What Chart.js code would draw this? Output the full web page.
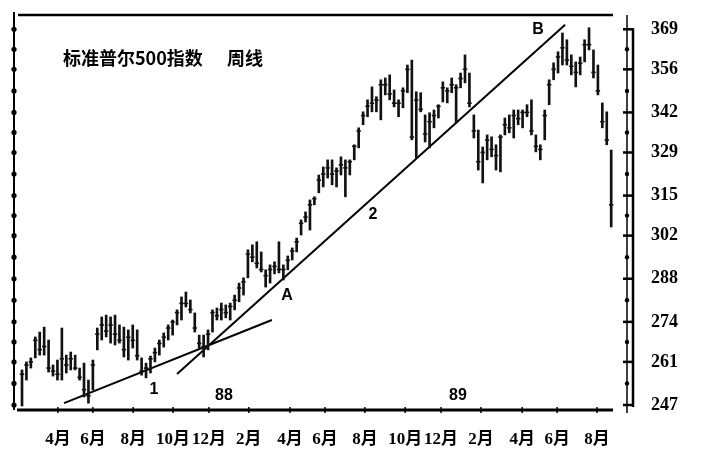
<!DOCTYPE html>
<html>
<head>
<meta charset="utf-8">
<script src="https://cdn.jsdelivr.net/npm/chart.js@4/dist/chart.umd.min.js"></script>
<style>
  body { margin: 0; background: #fff; }
</style>
</head>
<body>
<canvas id="spxChart" width="706" height="450"></canvas>
<script>
// weekly S&P 500 bars (high / low / close per week)
const weekHighs = [258.4, 261.0, 262.3, 269.1, 270.7, 272.3, 268.1, 260.0, 261.6, 272.0,
  263.2, 264.2, 263.2, 259.0, 260.6, 255.1, 261.6, 272.0, 275.6, 276.2,
  275.6, 276.2, 273.0, 272.3, 271.4, 273.0, 271.4, 262.3, 260.6, 262.9,
  265.5, 268.1, 270.4, 273.0, 274.6, 277.9, 282.1, 283.7, 281.1, 276.9,
  269.7, 269.7, 271.4, 277.9, 278.5, 280.1, 279.5, 280.1, 282.7, 286.6,
  288.3, 297.4, 299.0, 300.0, 296.7, 290.9, 292.5, 293.5, 300.0, 292.5,
  295.4, 298.0, 301.2, 307.1, 309.7, 313.6, 314.6, 321.7, 324.3, 326.6,
  326.6, 324.0, 327.6, 326.6, 326.6, 331.5, 337.0, 342.2, 346.1, 350.3,
  347.1, 352.6, 353.2, 354.2, 349.3, 346.1, 350.0, 357.4, 359.0, 348.7,
  348.4, 341.2, 341.9, 342.8, 344.5, 351.9, 350.0, 353.2, 351.0, 354.8,
  360.7, 354.8, 341.2, 336.3, 330.8, 334.7, 334.1, 331.5, 334.7, 340.2,
  341.2, 342.8, 342.8, 342.8, 344.5, 346.1, 334.7, 331.5, 342.8, 352.6,
  358.1, 361.7, 367.8, 365.6, 360.7, 358.4, 360.0, 365.6, 369.5, 362.3,
  357.4, 345.1, 342.2, 329.8];

const weekLows = [246.7, 255.1, 259.0, 262.3, 263.2, 263.2, 257.7, 256.4, 255.1, 255.1,
  257.4, 258.4, 258.4, 255.1, 249.6, 247.6, 251.9, 264.9, 268.1, 269.1,
  267.1, 266.5, 267.1, 262.6, 261.6, 265.5, 261.6, 256.7, 255.8, 257.4,
  261.0, 263.2, 265.8, 268.1, 269.7, 273.0, 274.6, 278.8, 276.9, 270.7,
  265.5, 262.6, 264.9, 270.7, 274.6, 274.6, 275.3, 274.6, 277.9, 280.5,
  282.7, 288.3, 293.5, 291.5, 290.2, 285.3, 286.6, 289.6, 289.9, 287.6,
  290.9, 294.1, 296.7, 302.2, 306.4, 303.8, 312.0, 315.9, 317.8, 320.7,
  318.5, 317.8, 321.7, 314.6, 321.7, 326.6, 330.5, 338.0, 340.6, 342.2,
  342.2, 339.6, 347.7, 346.1, 343.8, 340.6, 343.5, 348.4, 333.1, 327.2,
  342.2, 332.4, 330.5, 337.0, 340.2, 345.4, 345.1, 348.4, 338.6, 350.0,
  351.6, 343.8, 333.7, 323.3, 319.1, 326.6, 327.6, 323.3, 322.7, 334.7,
  335.4, 333.7, 338.0, 337.0, 340.6, 334.7, 329.2, 326.6, 333.1, 344.5,
  352.6, 354.8, 357.4, 357.4, 354.2, 350.3, 354.2, 358.4, 362.3, 353.2,
  347.7, 337.0, 331.5, 304.8];

const weekCloses = [257, 260, 261, 268, 265, 266, 259, 258, 257, 262,
  260, 262, 259, 256, 252, 250, 260, 270, 273, 271,
  273, 270, 268, 265, 269, 268, 263, 258, 259, 262,
  264, 267, 269, 272, 274, 277, 280, 280, 278, 272,
  267, 266, 270, 277, 276, 278, 277, 279, 281, 285,
  287, 296, 295, 293, 291, 289, 291, 292, 291, 291,
  294, 297, 300, 306, 308, 312, 314, 320, 322, 324,
  322, 323, 325, 324, 326, 331, 336, 341, 344, 345,
  346, 351, 351, 348, 345, 345, 349, 356, 334, 346,
  343, 335, 339, 341, 344, 350, 349, 351, 350, 353,
  356, 345, 336, 326, 329, 333, 330, 328, 334, 338,
  337, 341, 340, 342, 342, 336, 331, 330, 341, 351,
  356, 360, 363, 359, 357, 355, 358, 364, 364, 355,
  349, 339, 333, 312];

// month ticks (in weeks from the first bar)
const xTickPos = [8.1, 16.0, 25.1, 34.1, 42.2, 51.2, 60.5, 68.4, 77.4, 86.5, 94.6, 103.6, 112.9, 120.8, 129.8];
const xTickLabels = ['4月', '6月', '8月', '10月', '12月', '2月', '4月', '6月', '8月', '10月', '12月', '2月', '4月', '6月', '8月'];
const yTicks = [247, 261, 274, 288, 302, 315, 329, 342, 356, 369];

// trend lines: [week, price]
const trendLine1 = [[9.5, 247.6], [56.4, 274.6]];
const trendLine2 = [[35.0, 257.1], [122.6, 370.5]];

// marks written on the chart
const noteText = ['1', '88', 'A', '2', '89', 'B'];
const noteWeek = [29.8, 45.6, 59.8, 79.2, 98.4, 116.5];
const notePrice = [251.9, 250.2, 282.4, 308.7, 250.2, 368.8];

const titleLeft = '标准普尔500指数';
const titleRight = '周线';

const decor = {
  id: 'decor',
  afterDraw(chart) {
    const ctx = chart.ctx;
    const a = chart.chartArea;
    const x = chart.scales.x, y = chart.scales.y;
    ctx.save();
    ctx.strokeStyle = '#000';
    ctx.fillStyle = '#000';

    // top frame + bottom axis line
    ctx.lineWidth = 2.5;
    ctx.beginPath();
    ctx.moveTo(a.left + 4, a.top); ctx.lineTo(a.right - 14, a.top);
    ctx.stroke();
    ctx.lineWidth = 3;
    ctx.beginPath();
    ctx.moveTo(a.left + 3, a.bottom); ctx.lineTo(a.right - 14, a.bottom);
    ctx.stroke();
    ctx.lineWidth = 1.5;
    xTickPos.forEach(v => {
      const px = x.getPixelForValue(v);
      ctx.beginPath();
      ctx.moveTo(px, a.bottom - 3); ctx.lineTo(px, a.bottom + 3);
      ctx.stroke();
    });

    // left axis with dots
    ctx.lineWidth = 2;
    ctx.beginPath();
    ctx.moveTo(a.left, a.top - 3); ctx.lineTo(a.left, a.bottom);
    ctx.stroke();

    // right axis: thin line + heavy line
    ctx.lineWidth = 1.5;
    ctx.beginPath();
    ctx.moveTo(a.right, a.top); ctx.lineTo(a.right, a.bottom + 3);
    ctx.stroke();
    ctx.lineWidth = 2.5;
    ctx.beginPath();
    ctx.moveTo(a.right + 6, y.getPixelForValue(yTicks[yTicks.length - 1]) - 1);
    ctx.lineTo(a.right + 6, y.getPixelForValue(yTicks[0]) + 2);
    ctx.stroke();

    yTicks.forEach((v, i) => {
      const py = y.getPixelForValue(v);
      ctx.beginPath(); ctx.arc(a.left, py, 2.6, 0, Math.PI * 2); ctx.fill();
      ctx.lineWidth = 2.5;
      ctx.beginPath(); ctx.moveTo(a.right - 4, py); ctx.lineTo(a.right + 6, py); ctx.stroke();
      if (i < yTicks.length - 1) {
        const pm = y.getPixelForValue((v + yTicks[i + 1]) / 2);
        ctx.beginPath(); ctx.arc(a.left, pm, 2.6, 0, Math.PI * 2); ctx.fill();
        ctx.beginPath(); ctx.arc(a.right, pm, 2.2, 0, Math.PI * 2); ctx.fill();
      }
    });

    // title
    ctx.font = 'bold 18px "Noto Sans CJK SC"';
    ctx.textBaseline = 'middle';
    ctx.textAlign = 'left';
    ctx.fillText(titleLeft, 63, 58);
    ctx.fillText(titleRight, 227, 58);

    // letters / numbers on the chart
    ctx.font = 'bold 16px "Liberation Sans"';
    ctx.textAlign = 'center';
    noteText.forEach((t, i) => {
      ctx.fillText(t, x.getPixelForValue(noteWeek[i]), y.getPixelForValue(notePrice[i]));
    });
    ctx.restore();
  }
};

const toPoints = pts => pts.map(p => ({ x: p[0], y: p[1] }));

new Chart(document.getElementById('spxChart').getContext('2d'), {
  type: 'bar',
  data: {
    datasets: [
      {
        type: 'bar',
        data: weekHighs.map((h, i) => ({ x: i, y: [weekLows[i], h] })),
        backgroundColor: '#111',
        barThickness: 2
      },
      {
        type: 'line',
        data: weekCloses.map((c, i) => ({ x: i, y: c })),
        showLine: false,
        pointStyle: 'line',
        pointRadius: 2.2,
        pointBorderWidth: 1.6,
        pointBorderColor: '#111'
      },
      { type: 'line', data: toPoints(trendLine1), borderColor: '#000', borderWidth: 2, pointRadius: 0 },
      { type: 'line', data: toPoints(trendLine2), borderColor: '#000', borderWidth: 2, pointRadius: 0 }
    ]
  },
  options: {
    responsive: false,
    animation: false,
    devicePixelRatio: 1,
    layout: { padding: { left: 14, top: 15, right: 0, bottom: 0 } },
    plugins: { legend: { display: false }, tooltip: { enabled: false } },
    scales: {
      x: {
        type: 'linear',
        min: -1.806,
        max: 136.57,
        offset: false,
        grid: { display: false, drawTicks: false },
        border: { display: false },
        afterBuildTicks: s => { s.ticks = xTickPos.map(v => ({ value: v })); },
        afterFit: s => { s.height = 40; s.paddingLeft = 0; s.paddingRight = 0; },
        ticks: {
          autoSkip: false, maxRotation: 0, padding: 19, color: '#000',
          font: { family: '"Liberation Serif", "Noto Sans CJK SC"', size: 17, weight: 'bold' },
          callback: (v, i) => xTickLabels[i]
        }
      },
      y: {
        position: 'right',
        min: 245.38,
        max: 373.64,
        grid: { display: false, drawTicks: false },
        border: { display: false },
        afterBuildTicks: s => { s.ticks = yTicks.map(v => ({ value: v })); },
        afterFit: s => { s.width = 79; s.paddingTop = 0; s.paddingBottom = 0; },
        ticks: {
          padding: 24, color: '#000',
          font: { family: '"Liberation Serif"', size: 18, weight: 'bold' },
          callback: v => String(v)
        }
      }
    }
  },
  plugins: [decor]
});
</script>
</body>
</html>
